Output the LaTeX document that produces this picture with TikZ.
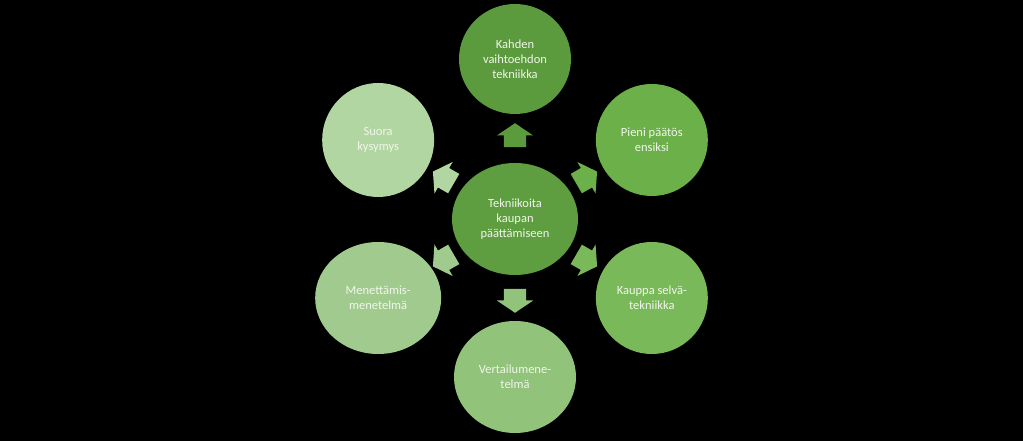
\documentclass[tikz,border=0pt]{standalone}
\usepackage{fontspec}
\setmainfont{Carlito}
\usepackage{tikz}
\usetikzlibrary{shapes.geometric,shapes.arrows}
\definecolor{ringTop}{RGB}{92,154,62}
\definecolor{ringMid}{RGB}{94,157,64}
\definecolor{ringUR}{RGB}{108,176,74}
\definecolor{ringLR}{RGB}{122,185,90}
\definecolor{ringBot}{RGB}{145,195,123}
\definecolor{ringLL}{RGB}{161,203,142}
\definecolor{ringUL}{RGB}{178,214,162}
\definecolor{labelWhite}{RGB}{240,246,234}

\begin{document}
\begin{tikzpicture}[x=1pt,y=1pt,
  bubble/.style={ellipse,align=center,inner sep=0pt,text=labelWhite,
    font=\fontsize{12.5}{15}\selectfont,minimum width=112pt,minimum height=112pt},
  pil/.style={single arrow,single arrow head extend=7pt,single arrow tip angle=112,
    minimum height=24pt,text height=22pt,text depth=0pt,text width=0pt,inner sep=0pt}
]
  \useasboundingbox[fill=black] (0,0) rectangle (1023,441);

  \node[bubble,fill=ringMid,minimum width=126pt] (keskus) at (515,222)
    {Tekniikoita\\kaupan\\päättämiseen};

  \node[bubble,fill=ringTop,minimum height=110pt] (kahden) at ([shift={(90:160pt)}]keskus.center)
    {Kahden\\vaihtoehdon\\tekniikka};
  \node[bubble,fill=ringUR] (pieni) at ([shift={(30:158pt)}]keskus.center)
    {Pieni päätös\\ensiksi};
  \node[bubble,fill=ringLR] (kauppa) at ([shift={(-30:158pt)}]keskus.center)
    {Kauppa selvä-\\tekniikka};
  \node[bubble,fill=ringBot,minimum width=122pt] (vertailu) at ([shift={(-90:158pt)}]keskus.center)
    {Vertailumene-\\telmä};
  \node[bubble,fill=ringLL,minimum width=126pt] (menettamis) at ([shift={(-150:158pt)}]keskus.center)
    {Menettämis-\\menetelmä};
  \node[bubble,fill=ringUL,minimum height=114pt] (suora) at ([shift={(150:158pt)}]keskus.center)
    {Suora\\kysymys};

  % arrows from the hub
  \node[pil,fill=ringTop,rotate=90] (p1) at ([shift={(90:80pt)}]keskus.center) {};
  \node[pil,fill=ringUR,rotate=30] (p2) at ([shift={(30:79pt)}]keskus.center) {};
  \node[pil,fill=ringLR,rotate=-30] (p3) at ([shift={(-30:79pt)}]keskus.center) {};
  \node[pil,fill=ringBot,rotate=-90] (p4) at ([shift={(-90:78pt)}]keskus.center) {};
  \node[pil,fill=ringLL,rotate=-150] (p5) at ([shift={(-150:79pt)}]keskus.center) {};
  \node[pil,fill=ringUL,rotate=150] (p6) at ([shift={(150:79pt)}]keskus.center) {};
\end{tikzpicture}
\end{document}
